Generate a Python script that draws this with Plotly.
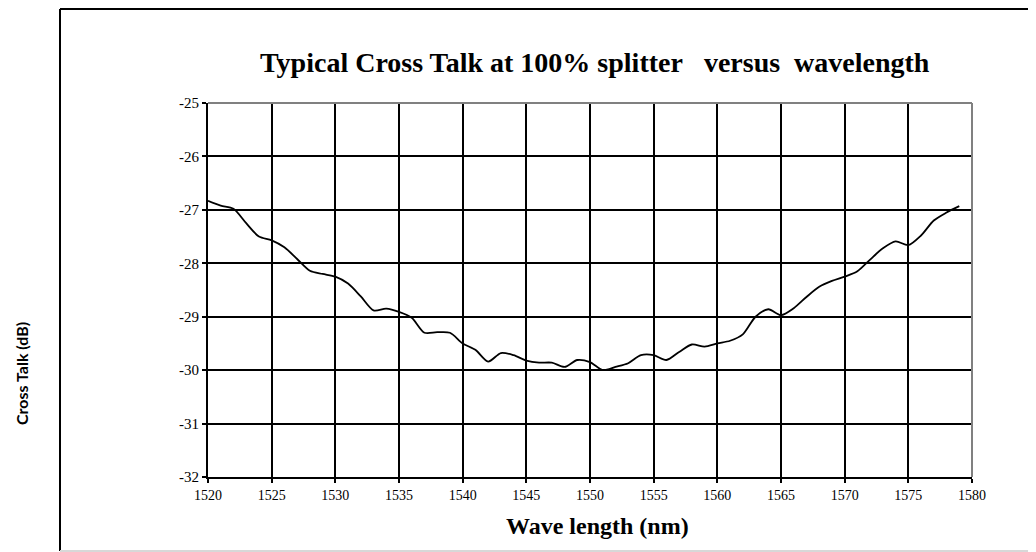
import plotly.graph_objects as go

wavelength_nm = [1520, 1521, 1522, 1523, 1524, 1525, 1526, 1527, 1528, 1529,
                 1530, 1531, 1532, 1533, 1534, 1535, 1536, 1537, 1538, 1539,
                 1540, 1541, 1542, 1543, 1544, 1545, 1546, 1547, 1548, 1549,
                 1550, 1551, 1552, 1553, 1554, 1555, 1556, 1557, 1558, 1559,
                 1560, 1561, 1562, 1563, 1564, 1565, 1566, 1567, 1568, 1569,
                 1570, 1571, 1572, 1573, 1574, 1575, 1576, 1577, 1578, 1579]
cross_talk_db = [-26.83, -26.92, -26.98, -27.25, -27.50, -27.57, -27.70, -27.92, -28.14, -28.20,
                 -28.25, -28.38, -28.62, -28.88, -28.85, -28.91, -29.02, -29.30, -29.29, -29.30,
                 -29.50, -29.62, -29.84, -29.68, -29.72, -29.82, -29.86, -29.86, -29.94, -29.81,
                 -29.85, -30.00, -29.94, -29.87, -29.72, -29.72, -29.81, -29.66, -29.52, -29.56,
                 -29.50, -29.45, -29.33, -29.00, -28.86, -28.97, -28.84, -28.63, -28.44, -28.33,
                 -28.25, -28.15, -27.93, -27.72, -27.59, -27.66, -27.48, -27.20, -27.05, -26.93]

x_tick_vals = [1520, 1525, 1530, 1535, 1540, 1545, 1550, 1555, 1560, 1565, 1570, 1575, 1580]
x_tick_text = ["1520", "1525", "1530", "1535", "1540", "1545", "1550", "1555", "1560", "1565", "1570", "1575", "1580"]
y_tick_vals = [-32, -31, -30, -29, -28, -27, -26, -25]
y_tick_text = ["-32", "-31", "-30", "-29", "-28", "-27", "-26", "-25"]

title_text = "Typical Cross Talk at 100% splitter\u00a0\u00a0 versus\u00a0 wavelength"
x_title = "Wave length (nm)"
y_title = "Cross Talk (dB)"

W, H = 1028, 544
L, R, T, B = 200, 964, 95, 469
pw, ph = R - L, B - T

def px(x):
    return (x - L) / pw

def py(y):
    return (B - y) / ph

fig = go.Figure()
fig.add_trace(go.Scatter(
    x=wavelength_nm, y=cross_talk_db, mode="lines",
    line=dict(color="black", width=1.8, shape="spline", smoothing=0.8),
    showlegend=False, hoverinfo="x+y"))

serif = "Liberation Serif, Times New Roman, serif"

fig.update_layout(
    width=W, height=H,
    margin=dict(l=L, r=W - R, t=T, b=H - B),
    paper_bgcolor="white", plot_bgcolor="white",
    font=dict(family=serif, color="black", size=14),
    xaxis=dict(range=[1520, 1580], tickmode="array", tickvals=x_tick_vals, ticktext=x_tick_text,
               showgrid=True, gridcolor="black", gridwidth=2,
               showline=True, linecolor="black", linewidth=2,
               ticks="outside", ticklen=4, tickwidth=2, tickcolor="black",
               zeroline=False, tickfont=dict(family=serif, size=14)),
    yaxis=dict(range=[-32, -25], tickmode="array", tickvals=y_tick_vals, ticktext=y_tick_text,
               showgrid=True, gridcolor="black", gridwidth=2,
               showline=True, linecolor="black", linewidth=2,
               ticks="outside", ticklen=4, tickwidth=2, tickcolor="black",
               zeroline=False, tickfont=dict(family=serif, size=15)),
    shapes=[
        dict(type="line", xref="paper", yref="paper", x0=0, x1=1, y0=1, y1=1,
             line=dict(color="#808080", width=2)),
        dict(type="line", xref="paper", yref="paper", x0=1, x1=1, y0=0, y1=1,
             line=dict(color="#808080", width=2)),
        dict(type="line", xref="paper", yref="paper", x0=px(52), x1=px(1040), y0=py(1), y1=py(1),
             line=dict(color="black", width=2)),
        dict(type="line", xref="paper", yref="paper", x0=px(52), x1=px(52), y0=py(1), y1=py(543),
             line=dict(color="black", width=2)),
        dict(type="line", xref="paper", yref="paper", x0=px(52), x1=px(1040), y0=py(543), y1=py(543),
             line=dict(color="#d8d8d8", width=2)),
    ],
    annotations=[
        dict(text="<b>" + title_text + "</b>", xref="paper", yref="paper",
             x=px(587), y=py(54), xanchor="center", yanchor="middle", showarrow=False,
             font=dict(family=serif, size=28, color="black")),
        dict(text="<b>" + x_title + "</b>", xref="paper", yref="paper",
             x=px(589), y=py(518), xanchor="center", yanchor="middle", showarrow=False,
             font=dict(family=serif, size=24, color="black")),
        dict(text="<b>" + y_title + "</b>", xref="paper", yref="paper",
             x=px(13), y=py(366), xanchor="center", yanchor="middle", showarrow=False,
             textangle=-90, font=dict(family="Lato, Open Sans, sans-serif", size=16, color="black")),
    ],
)

fig.write_html("out.html")
